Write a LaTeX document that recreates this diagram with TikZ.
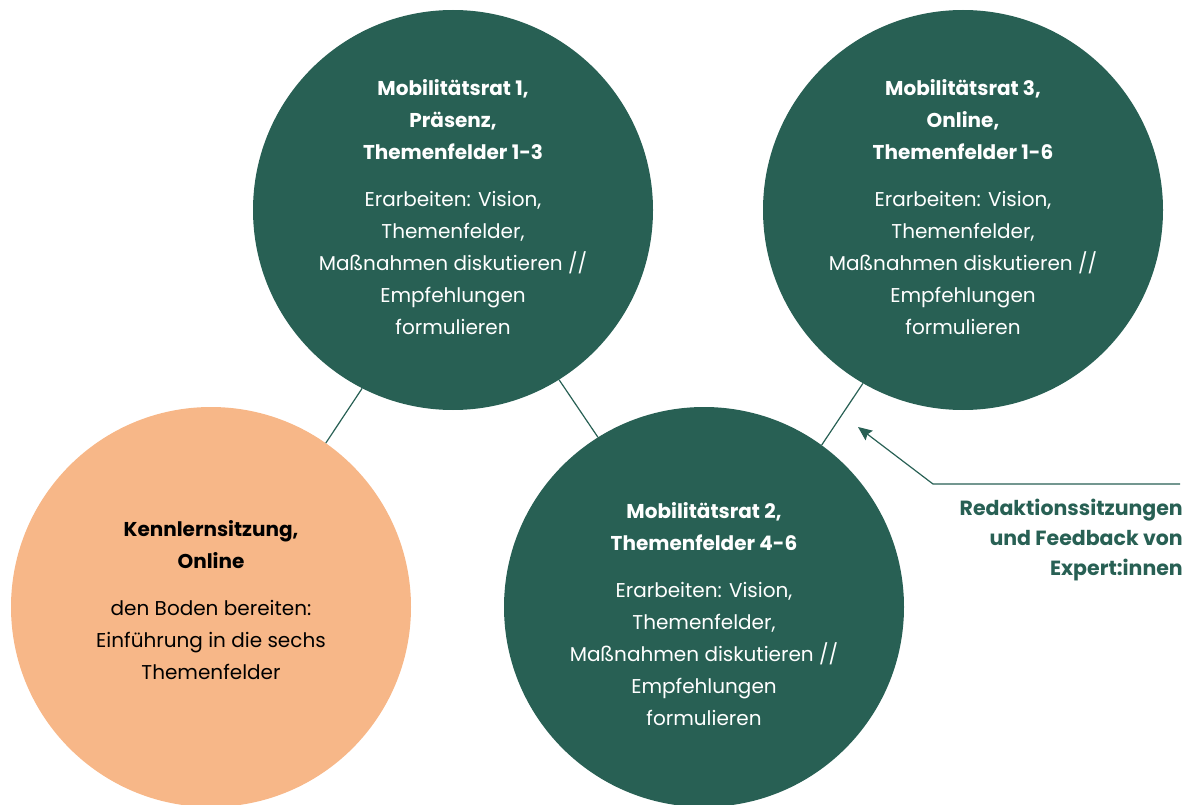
\documentclass[tikz,border=0pt]{standalone}
\usepackage{fontspec}
\setmainfont{Poppins}
\usetikzlibrary{arrows.meta}
\definecolor{dgreen}{RGB}{40,96,84}
\definecolor{peach}{RGB}{247,183,136}
\begin{document}
\begin{tikzpicture}[x=1pt,y=-1pt,
  bubble/.style={circle,minimum size=400pt,inner sep=0pt,draw=none},
  txt/.style={align=center,font=\fontsize{20}{32}\selectfont,inner sep=0pt},
  link/.style={draw=dgreen,line width=1.2pt}]
\useasboundingbox (0,0) rectangle (1192,805);
\node[bubble,fill=peach] (k) at (211,607) {};
\node[bubble,fill=dgreen] (m1) at (453,210) {};
\node[bubble,fill=dgreen] (m2) at (704,607) {};
\node[bubble,fill=dgreen] (m3) at (963,210) {};

\node[txt,text=black] (tk) at (211,600) {\textbf{Kennlernsitzung,}\\\textbf{Online}\\[15pt]den Boden bereiten:\\Einführung in die sechs\\Themenfelder};
\node[txt,text=white] (t1) at (453,207) {\textbf{Mobilitätsrat 1,}\\\textbf{Präsenz,}\\\textbf{Themenfelder 1-3}\\[15pt]Erarbeiten: Vision,\\Themenfelder,\\Maßnahmen diskutieren //\\Empfehlungen\\formulieren};
\node[txt,text=white] (t2) at (704,614) {\textbf{Mobilitätsrat 2,}\\\textbf{Themenfelder 4-6}\\[15pt]Erarbeiten: Vision,\\Themenfelder,\\Maßnahmen diskutieren //\\Empfehlungen\\formulieren};
\node[txt,text=white] (t3) at (963,207) {\textbf{Mobilitätsrat 3,}\\\textbf{Online,}\\\textbf{Themenfelder 1-6}\\[15pt]Erarbeiten: Vision,\\Themenfelder,\\Maßnahmen diskutieren //\\Empfehlungen\\formulieren};

\draw[link] (m1.243) -- (k.55);
\draw[link] (m1.302) -- (m2.122);
\draw[link] (m3.240) -- (m2.54);

\coordinate (a0) at (1180,484);
\coordinate (a1) at (933,484);
\coordinate (a2) at (858,427);
\draw[link,-{Stealth[length=14pt,width=12pt,inset=2pt]}] (a0) -- (a1) -- (a2);

\node[align=right,anchor=east,text=dgreen,inner sep=0pt,font=\fontsize{20.5}{30}\selectfont\bfseries] (lab) at (1183,540) {Redaktionssitzungen\\und Feedback von\\Expert:innen};
\end{tikzpicture}
\end{document}
